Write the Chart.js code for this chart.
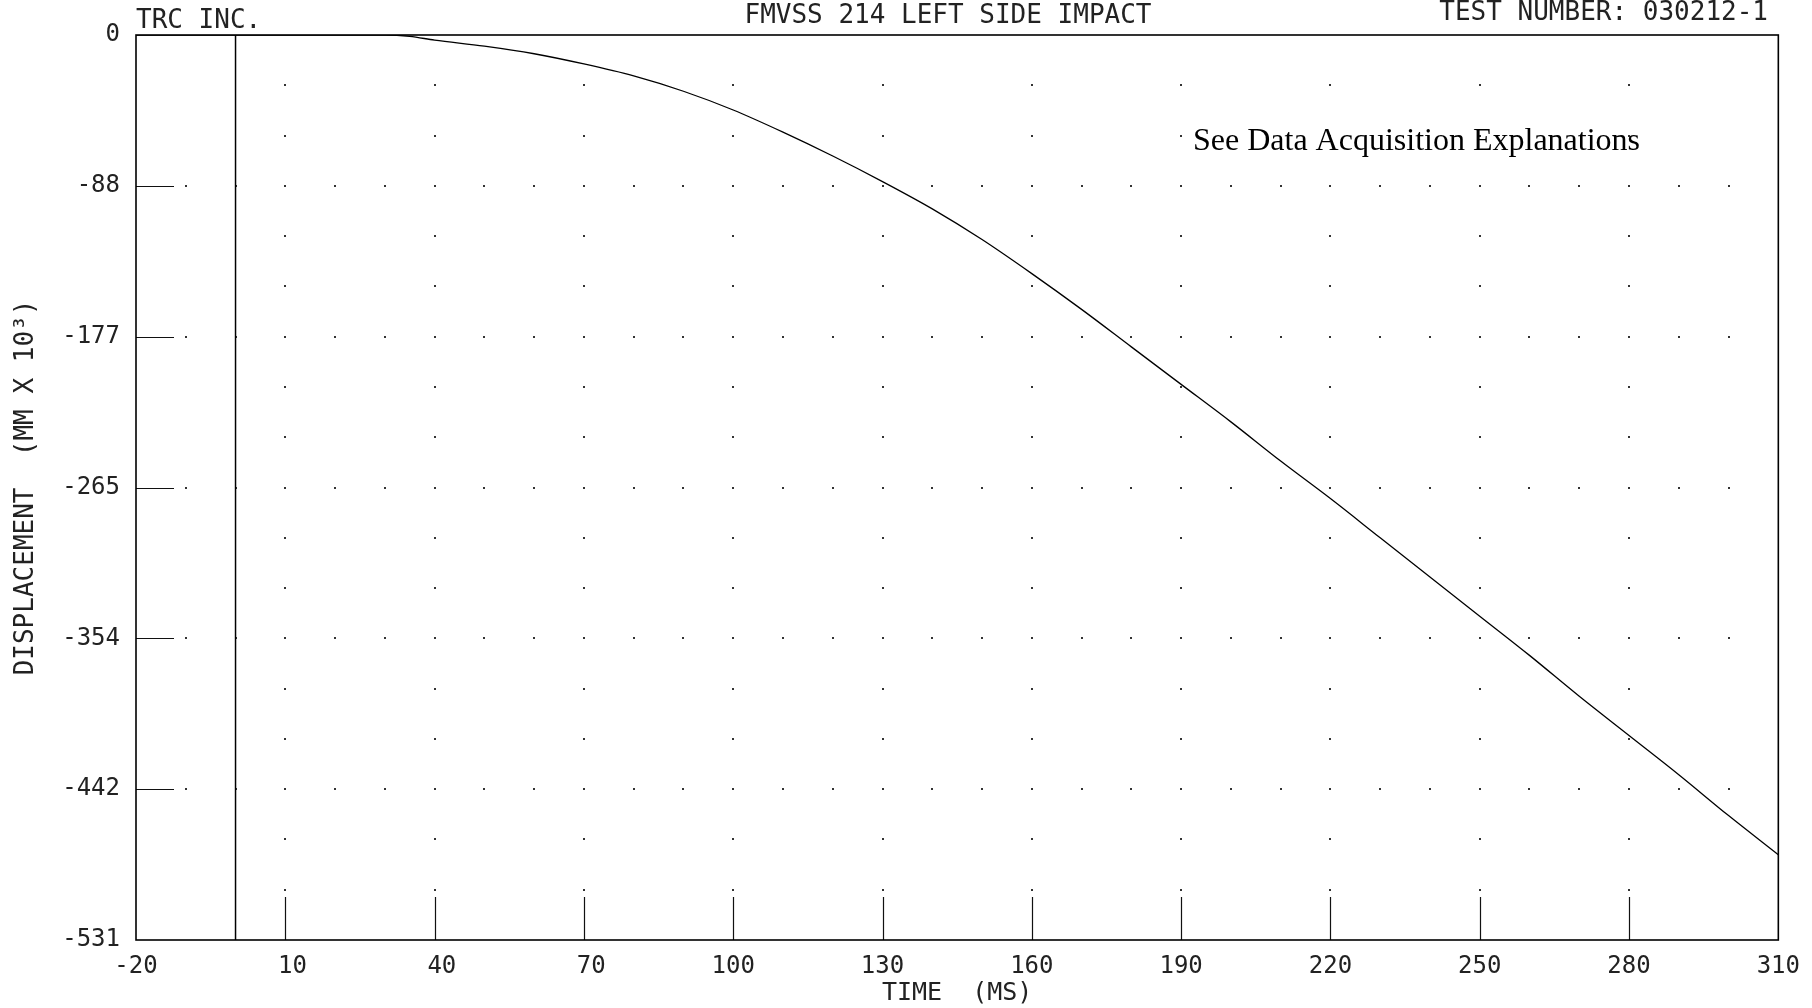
<!DOCTYPE html>
<html>
<head>
<meta charset="utf-8">
<script src="https://cdn.jsdelivr.net/npm/chart.js@4/dist/chart.umd.min.js"></script>
<style>
  html, body { margin: 0; padding: 0; background: #fff; }
  #wrap { width: 1812px; height: 1008px; position: relative; }
</style>
</head>
<body>
<div id="wrap"><canvas id="c" width="1812" height="1008"></canvas></div>
<script>
// ---- data ----
const timeMs = [-20, 0, 20, 30, 35, 40, 50, 60, 70, 80, 90, 100, 110, 120, 130, 140, 150, 160, 170, 180, 190, 200, 210, 220, 230, 240, 250, 260, 270, 280, 290, 300, 310];
const displacement = [0, 0, 0, 0, -0.8, -3, -6.5, -11, -17, -24, -33, -44, -57, -71, -86, -102, -120, -140, -161, -183, -205, -227, -250, -272, -295, -318, -341, -364, -388, -411, -434, -458, -481];
const xTickValues = [-20, 10, 40, 70, 100, 130, 160, 190, 220, 250, 280, 310];
const xTickLabels = ['-20', ' 10', ' 40', ' 70', '100', '130', '160', '190', '220', '250', '280', '310'];
const yTickValues = [0, -88.5, -177, -265.5, -354, -442.5, -531];
const yTickLabels = ['0', '-88', '-177', '-265', '-354', '-442', '-531'];
const zeroLineTime = [0, 0];
const zeroLineValue = [0, -531];

const headerLeft = 'TRC INC.';
const headerCenter = 'FMVSS 214 LEFT SIDE IMPACT';
const headerRight = 'TEST NUMBER: 030212-1';
const noteText = 'See Data Acquisition Explanations';
const xTitle = 'TIME  (MS)';
const yTitle = 'DISPLACEMENT  (MM X 10\u00B3)';

const MONO = '"DejaVu Sans Mono", "Liberation Mono", monospace';
const INK = '#222';

const plotter = {
  id: 'plotter',
  beforeDatasetsDraw(chart) {
    const ctx = chart.ctx, xs = chart.scales.x, ys = chart.scales.y;
    const xMin = xTickValues[0], xMax = xTickValues[xTickValues.length - 1];
    const xMinor = (xTickValues[1] - xTickValues[0]) / 3;
    const yMinor = (yTickValues[0] - yTickValues[1]) / 3;
    ctx.save();
    ctx.fillStyle = '#333';
    // dotted grid on major rows: every minor x step
    for (let i = 1; i < yTickValues.length - 1; i++) {
      const py = ys.getPixelForValue(yTickValues[i]);
      for (let t = xMin + xMinor; t < xMax - 0.5; t += xMinor) {
        const px = xs.getPixelForValue(t);
        ctx.fillRect(Math.round(px) - 1, Math.round(py) - 1, 2, 2);
      }
    }
    // minor rows: dots at major x
    for (let i = 0; i < yTickValues.length - 1; i++) {
      for (let k = 1; k <= 2; k++) {
        const py = ys.getPixelForValue(yTickValues[i] - k * yMinor);
        for (let j = 1; j < xTickValues.length - 1; j++) {
          const px = xs.getPixelForValue(xTickValues[j]);
          ctx.fillRect(Math.round(px) - 1, Math.round(py) - 1, 2, 2);
        }
      }
    }
    // inward tick marks
    ctx.strokeStyle = '#111';
    ctx.lineWidth = 1.2;
    const ca = chart.chartArea;
    ctx.beginPath();
    for (let i = 1; i < yTickValues.length - 1; i++) {
      const py = Math.round(ys.getPixelForValue(yTickValues[i])) + 0.5;
      ctx.moveTo(ca.left, py); ctx.lineTo(ca.left + 38, py);
    }
    for (let j = 1; j < xTickValues.length - 1; j++) {
      const px = Math.round(xs.getPixelForValue(xTickValues[j])) + 0.5;
      ctx.moveTo(px, ca.bottom); ctx.lineTo(px, ca.bottom - 43);
    }
    ctx.stroke();
    ctx.restore();
  },
  afterDraw(chart) {
    const ctx = chart.ctx, ca = chart.chartArea;
    ctx.save();
    // frame
    ctx.strokeStyle = '#000';
    ctx.lineWidth = 1.6;
    ctx.strokeRect(ca.left, ca.top, ca.right - ca.left, ca.bottom - ca.top);
    // header texts
    ctx.fillStyle = INK;
    ctx.font = '26px ' + MONO;
    ctx.textBaseline = 'middle';
    ctx.textAlign = 'left';
    ctx.fillText(headerLeft, ca.left, 21);
    ctx.textAlign = 'center';
    ctx.fillText(headerCenter, 948, 16);
    ctx.textAlign = 'right';
    ctx.fillText(headerRight, 1768, 13);
    // note
    ctx.fillStyle = '#000';
    ctx.font = '32px "Liberation Serif", "DejaVu Serif", serif';
    ctx.textAlign = 'left';
    ctx.fillText(noteText, 1193, 142);
    ctx.restore();
  }
};

new Chart(document.getElementById('c'), {
  type: 'line',
  data: {
    datasets: [
      {
        data: timeMs.map((t, i) => ({ x: t, y: displacement[i] })),
        borderColor: '#000',
        borderWidth: 1.3,
        pointRadius: 0,
        fill: false,
        cubicInterpolationMode: 'monotone'
      },
      {
        data: zeroLineTime.map((t, i) => ({ x: t, y: zeroLineValue[i] })),
        borderColor: '#000',
        borderWidth: 1.5,
        pointRadius: 0,
        fill: false
      }
    ]
  },
  plugins: [plotter],
  options: {
    responsive: false,
    animation: false,
    events: [],
    layout: { padding: { top: 35, right: 29, left: 11, bottom: 0 } },
    plugins: { legend: { display: false }, tooltip: { enabled: false }, title: { display: false } },
    scales: {
      x: {
        type: 'linear',
        min: xTickValues[0],
        max: xTickValues[xTickValues.length - 1],
        afterBuildTicks: (s) => { s.ticks = xTickValues.map(v => ({ value: v })); },
        afterFit: (s) => { s.height = 68; },
        grid: { display: false, drawTicks: false },
        border: { display: false },
        ticks: {
          autoSkip: false, maxRotation: 0, padding: 12,
          color: INK, font: { family: MONO, size: 24 },
          callback: (v, i) => xTickLabels[i]
        },
        title: {
          display: true, text: xTitle, color: INK,
          font: { family: MONO, size: 25 }, padding: { top: 2, bottom: 0 }
        }
      },
      y: {
        type: 'linear',
        min: yTickValues[yTickValues.length - 1],
        max: yTickValues[0],
        afterBuildTicks: (s) => { s.ticks = yTickValues.map(v => ({ value: v })); },
        afterFit: (s) => { s.width = 125; },
        grid: { display: false, drawTicks: false },
        border: { display: false },
        ticks: {
          autoSkip: false, padding: 16,
          color: INK, font: { family: MONO, size: 24 },
          callback: (v, i) => yTickLabels[i]
        },
        title: {
          display: true, text: yTitle, color: INK,
          font: { family: MONO, size: 26 }, padding: { top: 0, bottom: 0 }
        }
      }
    }
  }
});
</script>
</body>
</html>
